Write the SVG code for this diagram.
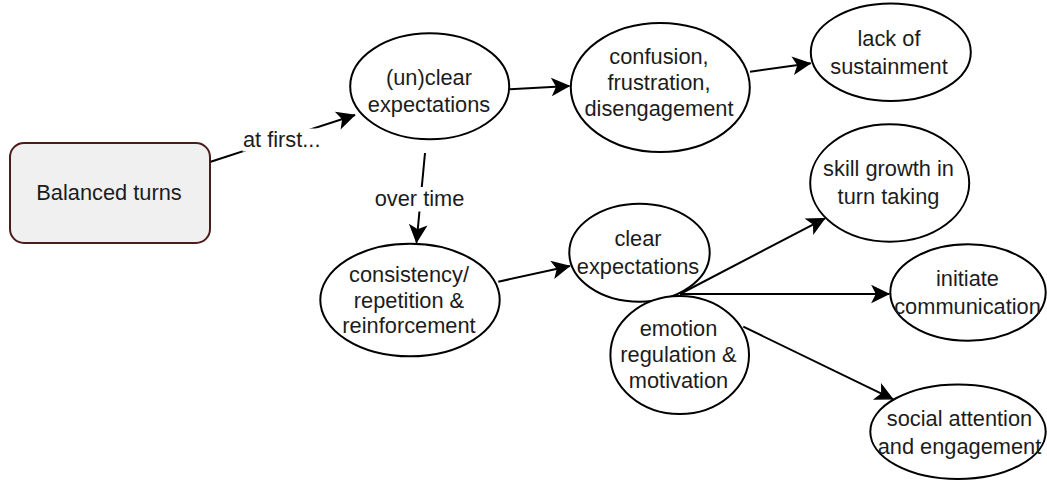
<svg xmlns="http://www.w3.org/2000/svg" width="1047" height="482" viewBox="0 0 1047 482">
  <style>
    .node { fill: #ffffff; stroke: #000000; stroke-width: 2; }
    .box { fill: #f0f0f0; stroke: #4c1c1c; stroke-width: 2; }
    .t { font-family: "Liberation Sans", Arial, Helvetica, sans-serif; font-size: 21.8px; fill: #1c1c1c; text-anchor: middle; }
    .edge { fill: none; stroke: #000000; stroke-width: 2; marker-end: url(#arr); }
    .lblbg { fill: #ffffff; stroke: none; }
  </style>
  <defs>
    <marker id="arr" markerUnits="userSpaceOnUse" markerWidth="22" markerHeight="22" viewBox="0 0 22 22" refX="18.5" refY="11" orient="auto">
      <path d="M17.5,11 L2,3.3 L5.8,11 L2,18.7 Z" fill="#000000" stroke="#000000" stroke-width="1.5"/>
    </marker>
  </defs>
  <rect width="1047" height="482" fill="#ffffff"/>

  <g id="balanced-turns">
    <rect class="box" x="10" y="143" width="200" height="100" rx="14" ry="14"/>
    <text class="t" x="109" y="200">Balanced turns</text>
  </g>

  <g id="unclear-expectations">
    <ellipse class="node" cx="429.7" cy="86.3" rx="79.5" ry="53"/>
    <text class="t" x="429" y="85">(un)clear</text>
    <text class="t" x="429" y="112">expectations</text>
  </g>

  <g id="confusion">
    <ellipse class="node" cx="660.3" cy="87.5" rx="89.5" ry="64.5"/>
    <text class="t" x="659" y="63.5">confusion,</text>
    <text class="t" x="659" y="90">frustration,</text>
    <text class="t" x="659" y="115.5">disengagement</text>
  </g>

  <g id="lack-of-sustainment">
    <ellipse class="node" cx="890.8" cy="52.2" rx="80" ry="48.7"/>
    <text class="t" x="889" y="46">lack of</text>
    <text class="t" x="889" y="74">sustainment</text>
  </g>

  <g id="consistency">
    <ellipse class="node" cx="410" cy="300" rx="89.7" ry="56.3"/>
    <text class="t" x="409" y="282">consistency/</text>
    <text class="t" x="409" y="307.5">repetition &amp;</text>
    <text class="t" x="409" y="333">reinforcement</text>
  </g>

  <g id="clear-expectations">
    <ellipse class="node" cx="639.5" cy="252.7" rx="70.2" ry="49"/>
    <text class="t" x="638" y="246">clear</text>
    <text class="t" x="638" y="273.5">expectations</text>
  </g>

  <g id="emotion-regulation">
    <ellipse class="node" cx="679.7" cy="355" rx="69.3" ry="59"/>
    <text class="t" x="678.5" y="336">emotion</text>
    <text class="t" x="678.5" y="362">regulation &amp;</text>
    <text class="t" x="678.5" y="387.5">motivation</text>
  </g>

  <g id="skill-growth">
    <ellipse class="node" cx="889.7" cy="183" rx="79.5" ry="58.7"/>
    <text class="t" x="888.5" y="176">skill growth in</text>
    <text class="t" x="888.5" y="203.5">turn taking</text>
  </g>

  <g id="initiate-communication">
    <ellipse class="node" cx="968" cy="292.5" rx="77.7" ry="48.2"/>
    <text class="t" x="967.5" y="286">initiate</text>
    <text class="t" x="967.5" y="313.5">communication</text>
  </g>

  <g id="social-attention">
    <ellipse class="node" cx="958" cy="431.7" rx="87.7" ry="47.3"/>
    <text class="t" x="959.5" y="426">social attention</text>
    <text class="t" x="959.5" y="453.5">and engagement</text>
  </g>

  <g id="connectors">
    <line class="edge" x1="210.7" y1="161.7" x2="355" y2="115"/>
    <rect class="lblbg" x="242.5" y="128.5" width="78" height="23"/>
    <text class="t" x="281.7" y="147">at first...</text>

    <line class="edge" x1="510" y1="89.3" x2="569.5" y2="86"/>
    <line class="edge" x1="750" y1="71.7" x2="810.7" y2="63.3"/>

    <line class="edge" x1="425" y1="153" x2="416.5" y2="242.7"/>
    <rect class="lblbg" x="374.5" y="187" width="90" height="24.5"/>
    <text class="t" x="419.5" y="206">over time</text>

    <line class="edge" x1="498.3" y1="281.7" x2="570" y2="266"/>
    <line class="edge" x1="680" y1="294" x2="825" y2="218.3"/>
    <line class="edge" x1="680" y1="294" x2="889.3" y2="294"/>
    <line class="edge" x1="743.3" y1="326.7" x2="893.3" y2="399.3"/>
  </g>
</svg>
